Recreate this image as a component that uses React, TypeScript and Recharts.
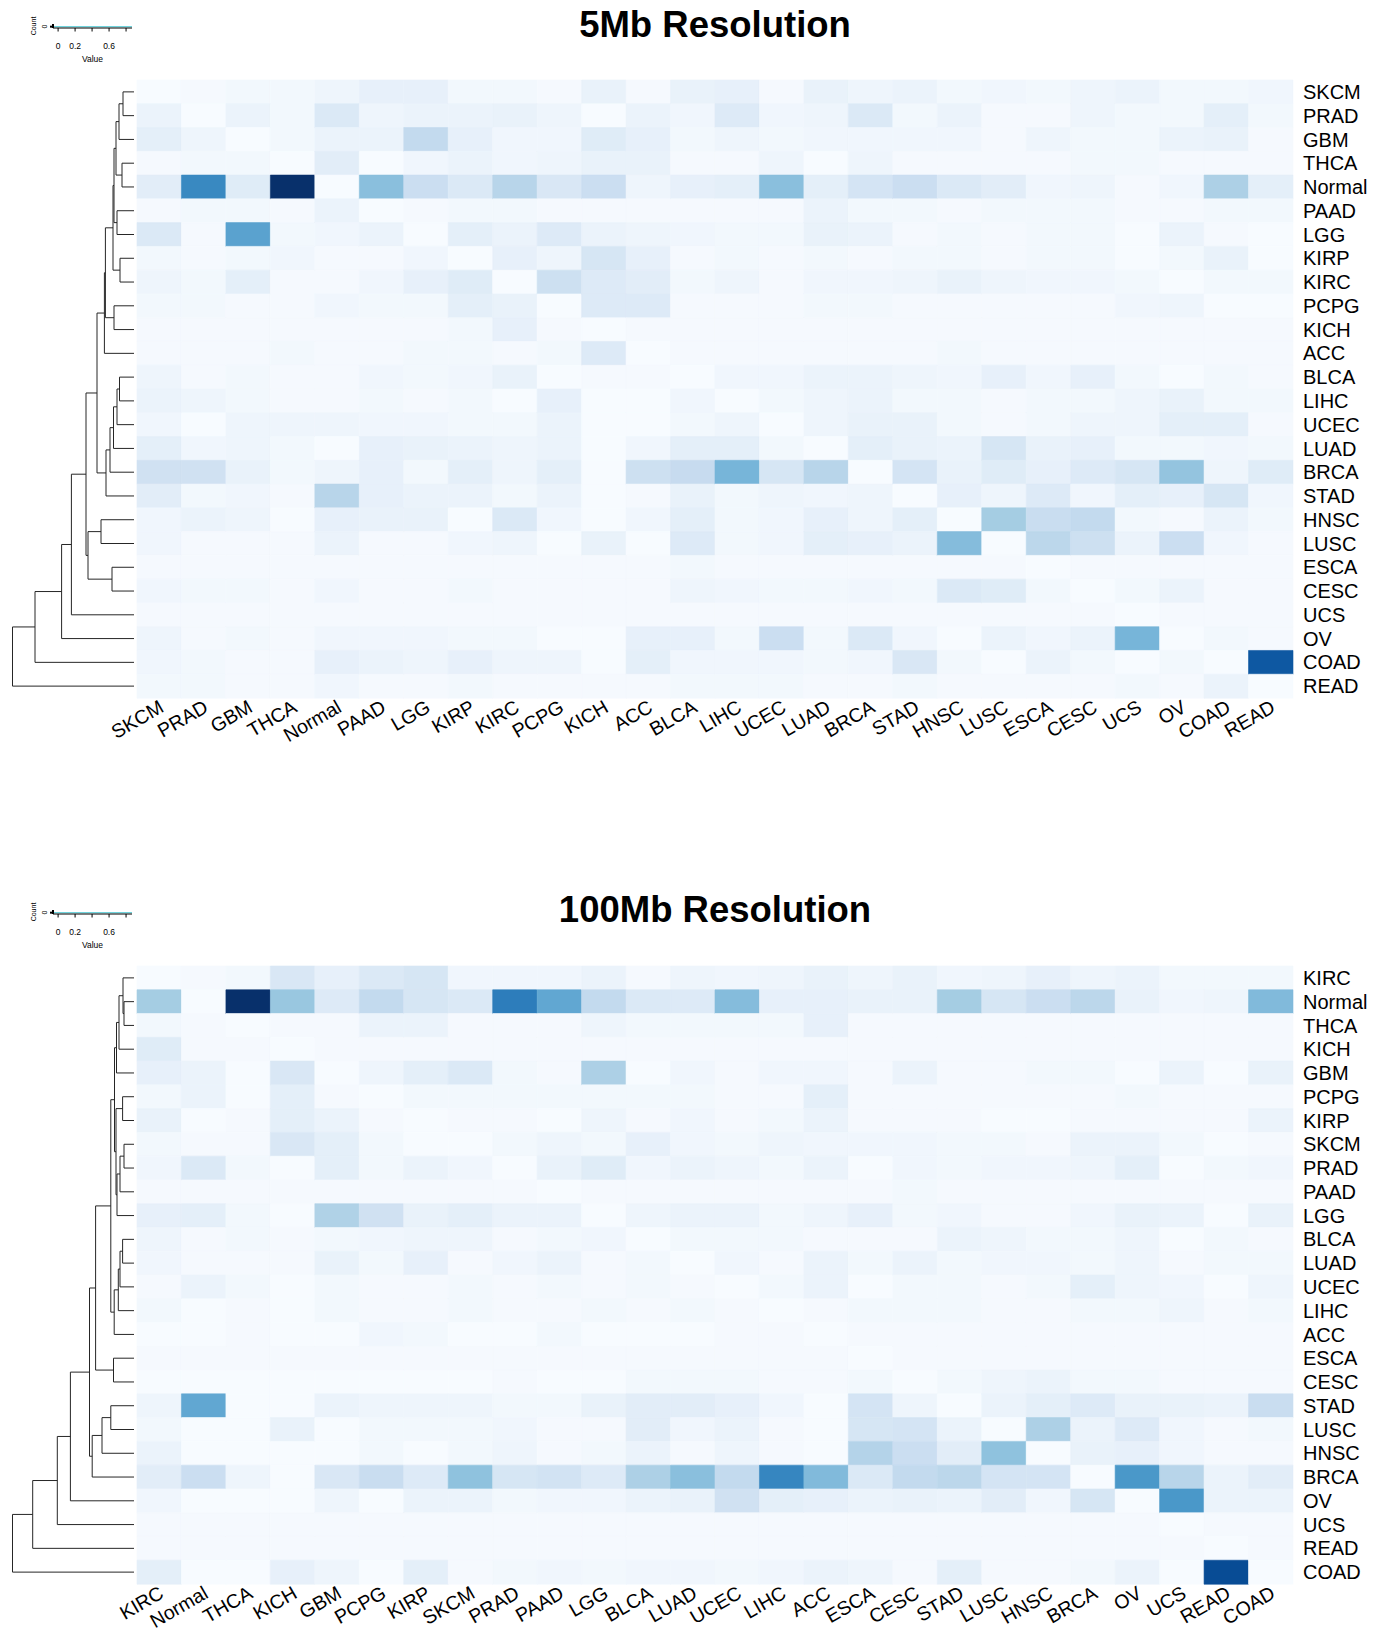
import React from 'react';
import {
  Bar,
  BarChart,
  Cell,
  Line,
  LineChart,
  Scatter,
  ScatterChart,
  XAxis,
  YAxis
} from 'recharts';

const FONT = '"Liberation Sans", Arial, Helvetica, sans-serif';

// ---- 5Mb resolution ----
const tumors5Mb = [
  'SKCM', 'PRAD', 'GBM', 'THCA', 'Normal', 'PAAD', 'LGG', 'KIRP', 'KIRC', 'PCPG', 'KICH', 'ACC', 'BLCA',
  'LIHC', 'UCEC', 'LUAD', 'BRCA', 'STAD', 'HNSC', 'LUSC', 'ESCA', 'CESC', 'UCS', 'OV', 'COAD', 'READ'
];

const scores5Mb = [
  [0, 0.01, 0.02, 0.02, 0.04, 0.07, 0.07, 0.02, 0.02, 0.01, 0.06, 0.01, 0.06, 0.07, 0.01, 0.06, 0.04, 0.05, 0.02, 0.03, 0.02, 0.04, 0.05, 0.02, 0.02, 0.03],
  [0.05, 0, 0.05, 0.02, 0.12, 0.04, 0.05, 0.05, 0.06, 0.04, 0, 0.05, 0.03, 0.11, 0.03, 0.04, 0.12, 0.02, 0.05, 0.01, 0.01, 0.04, 0.02, 0.02, 0.08, 0.02],
  [0.08, 0.04, 0, 0.02, 0.05, 0.05, 0.22, 0.07, 0.03, 0.03, 0.1, 0.07, 0.02, 0.04, 0.02, 0.03, 0.03, 0.03, 0.03, 0.01, 0.04, 0.02, 0.02, 0.05, 0.06, 0.01],
  [0.01, 0.02, 0.02, 0, 0.09, 0, 0.03, 0.05, 0.03, 0.04, 0.06, 0.06, 0.01, 0.01, 0.04, 0, 0.04, 0.01, 0.01, 0.01, 0.01, 0.02, 0.02, 0.01, 0.01, 0.01],
  [0.09, 0.56, 0.1, 0.85, 0, 0.36, 0.19, 0.12, 0.25, 0.13, 0.19, 0.04, 0.07, 0.08, 0.36, 0.08, 0.15, 0.19, 0.12, 0.09, 0.03, 0.04, 0.01, 0.03, 0.28, 0.08],
  [0.01, 0.02, 0.02, 0.01, 0.05, 0, 0.01, 0.02, 0.02, 0.01, 0.01, 0.01, 0.01, 0.01, 0.01, 0.05, 0.02, 0.02, 0.01, 0.02, 0.02, 0.02, 0.01, 0.01, 0.02, 0.02],
  [0.12, 0.01, 0.47, 0.02, 0.03, 0.05, 0, 0.08, 0.05, 0.11, 0.05, 0.04, 0.03, 0.02, 0.02, 0.06, 0.05, 0.01, 0.02, 0.01, 0.02, 0.02, 0, 0.05, 0.01, 0],
  [0.02, 0.01, 0.02, 0.03, 0.01, 0.01, 0.03, 0, 0.07, 0.04, 0.14, 0.07, 0.01, 0.02, 0.01, 0.02, 0.01, 0.02, 0.02, 0.01, 0.02, 0.02, 0, 0.02, 0.06, 0],
  [0.04, 0.02, 0.08, 0.01, 0.01, 0.03, 0.07, 0.1, 0, 0.18, 0.11, 0.09, 0.02, 0.04, 0.01, 0.03, 0.03, 0.04, 0.06, 0.04, 0.03, 0.03, 0.02, 0, 0.02, 0.02],
  [0.02, 0.02, 0.01, 0.01, 0.03, 0.02, 0.02, 0.08, 0.06, 0, 0.11, 0.11, 0.01, 0.01, 0.01, 0.02, 0.02, 0.01, 0.01, 0.01, 0.01, 0.01, 0.03, 0.04, 0, 0],
  [0.01, 0.01, 0.01, 0.01, 0.01, 0.01, 0.01, 0.02, 0.07, 0.01, 0, 0.01, 0.01, 0.01, 0.01, 0.01, 0.01, 0.01, 0.01, 0.01, 0.01, 0.01, 0.01, 0.01, 0.01, 0.01],
  [0.01, 0.01, 0.01, 0.02, 0.01, 0.01, 0.02, 0.02, 0.01, 0.02, 0.11, 0, 0.01, 0.01, 0.01, 0.01, 0.01, 0.01, 0.02, 0.01, 0.01, 0.01, 0.01, 0.01, 0.01, 0.01],
  [0.04, 0.01, 0.02, 0.01, 0.01, 0.03, 0.02, 0.03, 0.06, 0, 0.01, 0.01, 0, 0.03, 0.03, 0.05, 0.05, 0.04, 0.03, 0.07, 0.03, 0.07, 0.02, 0, 0.02, 0.01],
  [0.05, 0.04, 0.02, 0.01, 0.01, 0.02, 0.01, 0.02, 0, 0.07, 0, 0, 0.03, 0, 0.02, 0.04, 0.05, 0.02, 0.02, 0.01, 0.02, 0.02, 0.04, 0.06, 0.02, 0.02],
  [0.03, 0, 0.04, 0.04, 0.04, 0.03, 0.03, 0.02, 0.02, 0.05, 0, 0, 0.02, 0.04, 0, 0.04, 0.06, 0.06, 0.02, 0.01, 0.02, 0.04, 0.04, 0.08, 0.08, 0.01],
  [0.08, 0.03, 0.04, 0.02, 0, 0.07, 0.06, 0.05, 0.04, 0.05, 0, 0.03, 0.08, 0.08, 0.02, 0, 0.08, 0.06, 0.05, 0.14, 0.06, 0.07, 0.02, 0.02, 0.03, 0.02],
  [0.17, 0.17, 0.06, 0.02, 0.04, 0.07, 0.02, 0.08, 0.04, 0.08, 0, 0.18, 0.21, 0.4, 0.14, 0.25, 0, 0.15, 0.06, 0.1, 0.07, 0.11, 0.14, 0.34, 0.04, 0.1],
  [0.09, 0.02, 0.03, 0.01, 0.25, 0.07, 0.05, 0.05, 0.02, 0.05, 0, 0.01, 0.06, 0.02, 0.04, 0.03, 0.04, 0, 0.07, 0.04, 0.11, 0.03, 0.08, 0.07, 0.14, 0.03],
  [0.03, 0.05, 0.04, 0, 0.07, 0.06, 0.06, 0, 0.12, 0.03, 0, 0.03, 0.08, 0.02, 0.03, 0.07, 0.04, 0.08, 0, 0.3, 0.2, 0.22, 0.02, 0.01, 0.05, 0.02],
  [0.03, 0.01, 0.01, 0.01, 0.05, 0.01, 0.01, 0.03, 0.04, 0, 0.06, 0, 0.11, 0.02, 0.03, 0.08, 0.07, 0.05, 0.37, 0, 0.24, 0.18, 0.05, 0.19, 0.03, 0.01],
  [0.01, 0.01, 0.01, 0.01, 0.01, 0.01, 0.01, 0.01, 0.01, 0.01, 0.01, 0.01, 0.02, 0.01, 0.01, 0.01, 0.01, 0.01, 0.01, 0.01, 0, 0.01, 0.01, 0.01, 0.01, 0.01],
  [0.03, 0.02, 0.02, 0.01, 0.03, 0.01, 0.01, 0.02, 0.01, 0.01, 0.01, 0.01, 0.04, 0.03, 0.02, 0.02, 0.03, 0.02, 0.12, 0.1, 0.02, 0, 0.02, 0.05, 0.01, 0.01],
  [0.01, 0.01, 0.01, 0.01, 0.01, 0.01, 0.01, 0.01, 0.01, 0.01, 0.01, 0.01, 0.01, 0.01, 0.01, 0.01, 0.01, 0.01, 0.01, 0.01, 0.01, 0.01, 0, 0.01, 0.01, 0.01],
  [0.04, 0.01, 0.02, 0.01, 0.03, 0.03, 0.03, 0.02, 0.02, 0, 0, 0.07, 0.07, 0.02, 0.19, 0.02, 0.12, 0.03, 0, 0.05, 0.03, 0.05, 0.4, 0, 0.02, 0.01],
  [0.03, 0.02, 0.01, 0.01, 0.07, 0.05, 0.04, 0.07, 0.04, 0.04, 0, 0.08, 0.03, 0.03, 0.03, 0.02, 0.03, 0.13, 0.02, 0, 0.05, 0.02, 0, 0.02, 0, 0.72],
  [0.02, 0.02, 0.01, 0.01, 0.03, 0.01, 0.01, 0.02, 0.01, 0.01, 0.01, 0.01, 0.02, 0.02, 0.02, 0.01, 0.01, 0.02, 0.01, 0.01, 0.01, 0.01, 0.02, 0.01, 0.05, 0]
];

// hclust-style merges: negative = leaf (row index + 1), positive = earlier merge
const tree5Mb: [number, number, number][] = [
  [-1, -2, 11], [1, -3, 15], [-4, -5, 12], [2, 3, 18], [-6, -7, 17], [4, 5, 20],
  [-8, -9, 14], [6, 7, 21], [-10, -11, 20], [8, 9, 28.6], [10, -12, 29.6],
  [-13, -14, 14.5], [12, -15, 17], [13, -16, 20.5], [14, -17, 24], [15, -18, 28],
  [11, 16, 37], [-19, -20, 33], [-21, -22, 22], [18, 19, 46], [17, 20, 48],
  [21, -23, 62.6], [22, -24, 72.4], [23, -25, 99], [24, -26, 121.5]
];

// ---- 100Mb resolution ----
const tumors100Mb = [
  'KIRC', 'Normal', 'THCA', 'KICH', 'GBM', 'PCPG', 'KIRP', 'SKCM', 'PRAD', 'PAAD', 'LGG', 'BLCA', 'LUAD',
  'UCEC', 'LIHC', 'ACC', 'ESCA', 'CESC', 'STAD', 'LUSC', 'HNSC', 'BRCA', 'OV', 'UCS', 'READ', 'COAD'
];

const scores100Mb = [
  [0, 0.01, 0.02, 0.13, 0.07, 0.12, 0.14, 0.03, 0.03, 0.03, 0.05, 0.01, 0.04, 0.03, 0.04, 0.06, 0.04, 0.06, 0.03, 0.04, 0.07, 0.04, 0.05, 0.02, 0.02, 0.02],
  [0.3, 0, 0.85, 0.33, 0.11, 0.22, 0.14, 0.12, 0.6, 0.45, 0.22, 0.12, 0.11, 0.37, 0.07, 0.07, 0.06, 0.06, 0.3, 0.14, 0.19, 0.24, 0.06, 0.03, 0.04, 0.38],
  [0.02, 0.01, 0, 0.01, 0.01, 0.05, 0.05, 0.01, 0.01, 0.01, 0.04, 0.02, 0.02, 0.02, 0.02, 0.07, 0.01, 0.01, 0.01, 0.01, 0.01, 0.01, 0.01, 0.01, 0.01, 0.01],
  [0.1, 0.01, 0.01, 0, 0.01, 0.01, 0.01, 0.01, 0.01, 0.01, 0.01, 0.01, 0.01, 0.01, 0.01, 0.01, 0.01, 0.01, 0.01, 0.01, 0.01, 0.01, 0.01, 0.01, 0.01, 0.01],
  [0.07, 0.05, 0, 0.13, 0, 0.04, 0.08, 0.12, 0.02, 0.01, 0.28, 0, 0.03, 0.01, 0.03, 0.03, 0.01, 0.05, 0.01, 0.01, 0.02, 0.02, 0, 0.05, 0, 0.06],
  [0.02, 0.05, 0, 0.08, 0.01, 0, 0.02, 0.02, 0.02, 0.02, 0.02, 0.02, 0.02, 0.01, 0.01, 0.08, 0.01, 0.01, 0.01, 0.01, 0.01, 0.01, 0.02, 0.01, 0.01, 0.01],
  [0.06, 0, 0.01, 0.08, 0.05, 0.01, 0, 0.01, 0.01, 0, 0.04, 0.01, 0.03, 0.01, 0.02, 0.05, 0.01, 0.01, 0.01, 0, 0, 0.01, 0.01, 0.01, 0.01, 0.05],
  [0.02, 0.01, 0.01, 0.13, 0.08, 0.02, 0, 0, 0.02, 0.04, 0.02, 0.07, 0.03, 0.02, 0.04, 0.03, 0.03, 0.03, 0.02, 0.02, 0.01, 0.05, 0.05, 0.02, 0, 0.01],
  [0.03, 0.12, 0.02, 0, 0.08, 0.02, 0.05, 0.03, 0, 0.06, 0.1, 0.03, 0.05, 0.04, 0.02, 0.05, 0, 0.03, 0.02, 0.03, 0.03, 0.04, 0.08, 0, 0.02, 0.03],
  [0.01, 0.01, 0.01, 0.01, 0.01, 0.01, 0.01, 0.01, 0.01, 0, 0.01, 0.01, 0.01, 0.01, 0.01, 0.01, 0.01, 0.02, 0.01, 0.01, 0.01, 0.01, 0.01, 0.01, 0.01, 0.01],
  [0.07, 0.08, 0.02, 0, 0.27, 0.17, 0.06, 0.08, 0.05, 0.05, 0, 0.04, 0.05, 0.05, 0.02, 0.04, 0.07, 0.02, 0.03, 0.01, 0.01, 0.03, 0.06, 0.05, 0, 0.06],
  [0.04, 0.01, 0.02, 0.01, 0.02, 0.03, 0.04, 0.04, 0.01, 0.02, 0.03, 0, 0.02, 0.02, 0.02, 0.01, 0.01, 0.01, 0.05, 0.04, 0.02, 0.02, 0.04, 0, 0.02, 0.01],
  [0.03, 0.01, 0.01, 0.01, 0.06, 0.02, 0.07, 0.01, 0.03, 0.05, 0.01, 0.02, 0, 0.03, 0.01, 0.05, 0.02, 0.05, 0.02, 0.03, 0.03, 0.02, 0.04, 0.01, 0.02, 0.02],
  [0.01, 0.05, 0.02, 0, 0.02, 0.01, 0.01, 0.02, 0.01, 0.02, 0.01, 0.02, 0.01, 0, 0.02, 0.05, 0, 0.02, 0.02, 0.01, 0.02, 0.08, 0.04, 0.03, 0, 0.04],
  [0.02, 0, 0.01, 0, 0.02, 0.01, 0.01, 0.02, 0.01, 0.01, 0.02, 0.01, 0.02, 0.01, 0, 0.01, 0.02, 0.02, 0.02, 0.01, 0.01, 0.02, 0.02, 0.04, 0.01, 0.02],
  [0, 0, 0.01, 0, 0, 0.03, 0.02, 0, 0, 0.02, 0, 0, 0, 0.01, 0.01, 0, 0.01, 0.01, 0.01, 0.01, 0.01, 0.01, 0.01, 0.01, 0.01, 0.01],
  [0.01, 0.01, 0.01, 0.01, 0.01, 0.01, 0.01, 0.01, 0.01, 0.01, 0.01, 0.01, 0.01, 0.01, 0.01, 0.01, 0, 0.01, 0.01, 0.01, 0.01, 0.01, 0.01, 0.01, 0.01, 0.01],
  [0, 0, 0, 0, 0, 0, 0, 0, 0.01, 0, 0, 0.02, 0.02, 0.02, 0.01, 0.01, 0.02, 0, 0.02, 0.04, 0.05, 0.02, 0.02, 0.01, 0.01, 0.01],
  [0.04, 0.45, 0, 0, 0.05, 0.04, 0.04, 0.04, 0.02, 0.02, 0.06, 0.09, 0.09, 0.07, 0.03, 0, 0.15, 0.04, 0, 0.05, 0.08, 0.11, 0.06, 0.06, 0.05, 0.2],
  [0.02, 0, 0, 0.06, 0, 0.02, 0.02, 0.02, 0.03, 0.01, 0.01, 0.09, 0.03, 0.05, 0.01, 0, 0.14, 0.15, 0.05, 0, 0.28, 0.05, 0.11, 0.03, 0.01, 0.02],
  [0.05, 0, 0, 0, 0, 0.02, 0, 0.02, 0.04, 0.01, 0.02, 0.05, 0.01, 0.04, 0.01, 0, 0.26, 0.19, 0.09, 0.35, 0, 0.06, 0.07, 0.03, 0.01, 0.01],
  [0.09, 0.19, 0.04, 0, 0.13, 0.2, 0.11, 0.35, 0.14, 0.16, 0.11, 0.28, 0.36, 0.22, 0.57, 0.38, 0.12, 0.22, 0.24, 0.15, 0.15, 0, 0.51, 0.25, 0.05, 0.09],
  [0.03, 0, 0, 0, 0.04, 0, 0.05, 0.05, 0.02, 0.03, 0.03, 0.05, 0.06, 0.17, 0.08, 0.07, 0.05, 0.06, 0.05, 0.09, 0.03, 0.14, 0, 0.51, 0.05, 0.05],
  [0.01, 0.01, 0.01, 0.01, 0.01, 0.01, 0.01, 0.01, 0.01, 0.01, 0.01, 0.01, 0.01, 0.01, 0.01, 0.01, 0.01, 0.01, 0.01, 0.01, 0.01, 0.01, 0.01, 0, 0.01, 0.01],
  [0.01, 0.01, 0.01, 0.01, 0.01, 0.01, 0.01, 0.01, 0.01, 0.01, 0.01, 0.01, 0.01, 0.01, 0.01, 0.01, 0.01, 0.01, 0.01, 0.01, 0.01, 0.01, 0.01, 0.01, 0, 0.01],
  [0.08, 0, 0, 0.07, 0.04, 0, 0.08, 0.01, 0.02, 0.03, 0.02, 0.03, 0.03, 0.02, 0.03, 0.05, 0.04, 0.01, 0.08, 0.01, 0.01, 0.02, 0.05, 0, 0.76, 0]
];

const tree100Mb: [number, number, number][] = [
  [-2, -3, 10], [-1, 1, 11], [2, -4, 15], [3, -5, 17.5], [-6, -7, 11.4],
  [-8, -9, 10], [6, -10, 14], [7, -11, 17], [5, 8, 18], [4, 9, 19.5],
  [-12, -13, 11.4], [11, -14, 14], [12, -15, 15.7], [13, -16, 19.8], [10, 14, 23.2],
  [-17, -18, 20.5], [15, 16, 38.4], [-19, -20, 23.2], [18, -21, 32], [19, -22, 41.8],
  [17, 20, 44.5], [21, -23, 63.6], [22, -24, 76.7], [23, -25, 101.3], [24, -26, 121.5]
];

// ---- colour key ----
const keyTicks = [0, 0.2, 0.4, 0.6, 0.8];
const keyTickLabels = ['0', '0.2', '', '0.6', ''];
const keyTrace = [
  { value: -0.06, count: 0 },
  { value: 0, count: 0 },
  { value: 0.2, count: 0 },
  { value: 0.4, count: 0 },
  { value: 0.6, count: 0 },
  { value: 0.87, count: 0 }
];

const BLUES = ['#f7fbff', '#deebf7', '#c6dbef', '#9ecae1', '#6baed6', '#4292c6', '#2171b5', '#08519c', '#08306b'];
const VALUE_MAX = 0.85;

function hexToRgb(h: string) {
  const n = parseInt(h.slice(1), 16);
  return [(n >> 16) & 255, (n >> 8) & 255, n & 255];
}

function blueFor(v: number) {
  const t = Math.max(0, Math.min(1, v / VALUE_MAX)) * (BLUES.length - 1);
  const i = Math.min(BLUES.length - 2, Math.floor(t));
  const f = t - i;
  const a = hexToRgb(BLUES[i]);
  const b = hexToRgb(BLUES[i + 1]);
  const c = a.map((x, k) => Math.round(x + (b[k] - x) * f));
  return `rgb(${c.join(',')})`;
}

// elbow polylines for each merge, leaves sit at row centres
function dendrogramPaths(merges: [number, number, number][]) {
  const nodes: { y: number; h: number }[] = [];
  const get = (ref: number) => (ref < 0 ? { y: -ref - 0.5, h: 0 } : nodes[ref - 1]);
  return merges.map(([a, b, h]) => {
    const A = get(a);
    const B = get(b);
    nodes.push({ y: (A.y + B.y) / 2, h });
    return [
      { x: A.h, y: A.y },
      { x: h, y: A.y },
      { x: h, y: B.y },
      { x: B.h, y: B.y }
    ];
  });
}

const PLOT_TOP = 80;
const PLOT_H = 618;

function ColumnTick(props: any) {
  const { x, y, payload, labels } = props;
  const label = labels[Math.floor(payload.value)];
  return (
    <text
      x={x}
      y={y}
      dx={-1}
      dy="0.68em"
      textAnchor="end"
      fontSize={19.5}
      fontFamily={FONT}
      fill="#000"
      transform={`rotate(-30 ${x} ${y})`}
    >
      {label}
    </text>
  );
}

function KeyCountTick(props: any) {
  const { x, y, payload } = props;
  return (
    <text x={x} y={y} textAnchor="middle" fontSize={7} fontFamily={FONT} fill="#000" transform={`rotate(-90 ${x} ${y})`}>
      {payload.value}
    </text>
  );
}

function ColorKey() {
  return (
    <LineChart width={140} height={70} data={keyTrace} margin={{ top: 24, right: 8, bottom: 0, left: 39 }}>
      <XAxis
        type="number"
        dataKey="value"
        domain={[-0.06, 0.87]}
        ticks={keyTicks}
        interval={0}
        height={42}
        tickSize={3.5}
        tickMargin={11}
        stroke="#000"
        tick={{ fontSize: 8.5, fill: '#000', fontFamily: FONT }}
        tickFormatter={(v: number) => keyTickLabels[keyTicks.indexOf(v)] ?? ''}
        label={{ value: 'Value', position: 'insideBottom', offset: 8, fontSize: 8.5, fill: '#000', fontFamily: FONT }}
      />
      <YAxis
        type="number"
        domain={[-0.5, 1]}
        ticks={[0]}
        width={14}
        tickSize={3}
        tickMargin={3}
        stroke="#000"
        strokeWidth={2}
        tick={KeyCountTick}
        label={{ value: 'Count', angle: -90, position: 'center', dx: -12, fontSize: 7, fill: '#000', fontFamily: FONT }}
      />
      <Line type="linear" dataKey="count" stroke="#6fd3dc" strokeWidth={1.2} dot={false} isAnimationActive={false} />
    </LineChart>
  );
}

type PanelProps = {
  title: string;
  tumors: string[];
  scores: number[][];
  tree: [number, number, number][];
  top: number;
};

const PANEL_H = 765;

function HeatmapPanel({ title, tumors, scores, tree, top }: PanelProps) {
  const rows = tumors.map((name) => {
    const row: Record<string, any> = { name };
    tumors.forEach((_, j) => {
      row[`c${j}`] = 1;
    });
    return row;
  });
  const colTicks = tumors.map((_, j) => j + 0.5);
  const branches = dendrogramPaths(tree);
  const axisH = PANEL_H - PLOT_TOP - PLOT_H;

  return (
    <div style={{ position: 'absolute', left: 0, top, width: 1388, height: PANEL_H }}>
      <div
        style={{
          position: 'absolute',
          left: 315,
          top: 6.5,
          width: 800,
          textAlign: 'center',
          fontFamily: FONT,
          fontWeight: 'bold',
          fontSize: 36.5,
          lineHeight: '36px',
          color: '#000'
        }}
      >
        {title}
      </div>

      <div style={{ position: 'absolute', left: 0, top: 0 }}>
        <ColorKey />
      </div>

      <div style={{ position: 'absolute', left: 0, top: 0 }}>
        <ScatterChart width={140} height={PANEL_H} margin={{ top: PLOT_TOP, right: 6, bottom: axisH, left: 12.5 }}>
          <XAxis type="number" dataKey="x" domain={[0, 121.5]} reversed hide />
          <YAxis type="number" dataKey="y" domain={[0, tumors.length]} reversed hide width={0} />
          {branches.map((pts, k) => (
            <Scatter
              key={k}
              data={pts}
              line={{ stroke: '#262626', strokeWidth: 1 }}
              shape={() => <g />}
              isAnimationActive={false}
            />
          ))}
        </ScatterChart>
      </div>

      <div style={{ position: 'absolute', left: 0, top: 0 }}>
        <BarChart
          width={1388}
          height={PANEL_H}
          data={rows}
          layout="vertical"
          barCategoryGap={0}
          barGap={0}
          margin={{ top: PLOT_TOP, right: 0, bottom: 0, left: 137 }}
        >
          <XAxis
            type="number"
            domain={[0, tumors.length]}
            ticks={colTicks}
            interval={0}
            height={axisH}
            axisLine={false}
            tickLine={false}
            tickSize={0}
            tickMargin={1}
            tick={(p: any) => <ColumnTick {...p} labels={tumors} />}
          />
          <YAxis
            type="category"
            dataKey="name"
            orientation="right"
            width={95}
            interval={0}
            axisLine={false}
            tickLine={false}
            tickSize={0}
            tickMargin={10}
            tick={{ fontSize: 20, fill: '#000', fontFamily: FONT }}
          />
          {tumors.map((_, j) => (
            <Bar key={j} dataKey={`c${j}`} stackId="cells" isAnimationActive={false}>
              {scores.map((r, i) => (
                <Cell key={i} fill={blueFor(r[j])} stroke={blueFor(r[j])} strokeWidth={0.6} />
              ))}
            </Bar>
          ))}
        </BarChart>
      </div>
    </div>
  );
}

export default function App() {
  return (
    <div style={{ position: 'absolute', left: 0, top: 0, width: 1388, height: 1631, background: '#fff', overflow: 'hidden' }}>
      <HeatmapPanel title="5Mb Resolution" tumors={tumors5Mb} scores={scores5Mb} tree={tree5Mb} top={0} />
      <HeatmapPanel title="100Mb Resolution" tumors={tumors100Mb} scores={scores100Mb} tree={tree100Mb} top={885.6} />
    </div>
  );
}
